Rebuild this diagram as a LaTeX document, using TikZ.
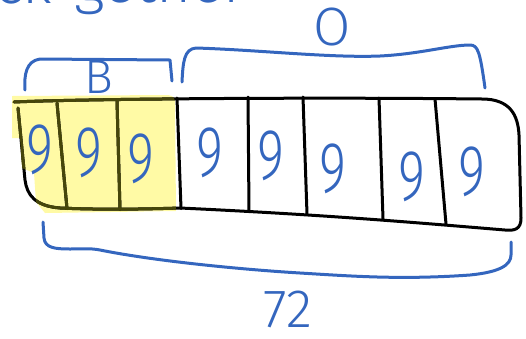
\documentclass[tikz,border=0pt]{standalone}
\usepackage{fontspec}
\setmainfont{Fira Sans}
\newfontfamily\hand{Fira Sans Light}
\definecolor{pen}{RGB}{52,102,190}
\definecolor{hl}{RGB}{255,250,165}
\definecolor{olivepen}{RGB}{70,70,10}
\begin{document}
\begin{tikzpicture}[x=1pt,y=-1pt,line cap=round,line join=round,
  ink/.style={line width=3pt},
  bracepen/.style={draw=pen,line width=3pt},
  digit/.style={text=pen,font=\hand\fontsize{72}{72}\selectfont,xscale=0.72,inner sep=0pt},
  lbl/.style={text=pen,inner sep=0pt,font=\hand\fontsize{48}{48}\selectfont}]
\useasboundingbox (0,0) rectangle (526,338);
% highlight
\fill[hl] (12,96) -- (168,95) .. controls (174,96) and (175,98) .. (175,104) -- (176,211) -- (45,213) -- (36,202) -- (34,173) -- (22,168) -- (20,138) -- (12,138) -- cycle;
% box outline and dividers
\def\boxlines#1{%
  \draw[ink,#1] (14,102) .. controls (80,99) and (300,97) .. (482,99) .. controls (510,99) and (518,115) .. (519,135) -- (521,218) .. controls (521,229) and (515,231) .. (505,230) .. controls (420,223) and (330,215) .. (180,208) .. controls (120,210) and (80,209) .. (60,208) .. controls (35,206) and (27,195) .. (25,180) -- (18,108);
  \draw[ink,#1] (57,103) -- (67,208.5);
  \draw[ink,#1] (117,101) -- (120,209.5);
  \draw[ink,#1] (177,98) -- (181,208.5);
  \draw[ink,#1] (248,97) -- (249,211);
  \draw[ink,#1] (303,97) -- (307,214);
  \draw[ink,#1] (379,98) -- (383,219);
  \draw[ink,#1] (435,99) -- (446,224);
}
\boxlines{black}
\begin{scope}
\clip (12,96) -- (168,95) .. controls (174,96) and (175,98) .. (175,104) -- (176,211) -- (45,213) -- (36,202) -- (34,173) -- (22,168) -- (20,138) -- (12,138) -- cycle;
\boxlines{olivepen}
\end{scope}
% digits
\node[digit] (d1) at (40,150) {9};
\node[digit] (d2) at (89,153) {9};
\node[digit] (d3) at (141,159) {9};
\node[digit] (d4) at (210,153) {9};
\node[digit] (d5) at (271,156) {9};
\node[digit] (d6) at (333,169) {9};
\node[digit] (d7) at (412,177) {9};
\node[digit] (d8) at (472,172) {9};
% braces
\draw[bracepen] (25,90) .. controls (24,75) and (26,61) .. (40,59) -- (170,60) -- (172,81);
\draw[bracepen] (182,82) .. controls (183,62) and (184,49) .. (196,48) .. controls (260,50) and (330,58) .. (380,56) .. controls (420,54) and (450,45) .. (470,45) .. controls (478,45) and (480,52) .. (485,88);
\draw[bracepen] (43,222) -- (44,238) .. controls (45,248) and (55,249) .. (70,249) .. controls (80,249) and (90,248) .. (100,250) .. controls (160,262) and (250,270) .. (300,273) .. controls (350,276) and (400,280) .. (470,275) .. controls (500,272) and (511,265) .. (511,255) -- (511,242);
% labels
\node[lbl] (lb) at (99,77) {B};
\node[lbl,font=\hand\fontsize{54}{54}\selectfont] (lo) at (332,27) {O};
\node[lbl,font=\hand\fontsize{54}{54}\selectfont] (l72) at (288,309) {72};
\node[lbl,font=\hand\fontsize{60}{60}\selectfont,anchor=base east] (t1) at (52,3) {ck};
\node[lbl,font=\hand\fontsize{60}{60}\selectfont,anchor=base west] (t2) at (74,2) {gether};
\end{tikzpicture}
\end{document}
